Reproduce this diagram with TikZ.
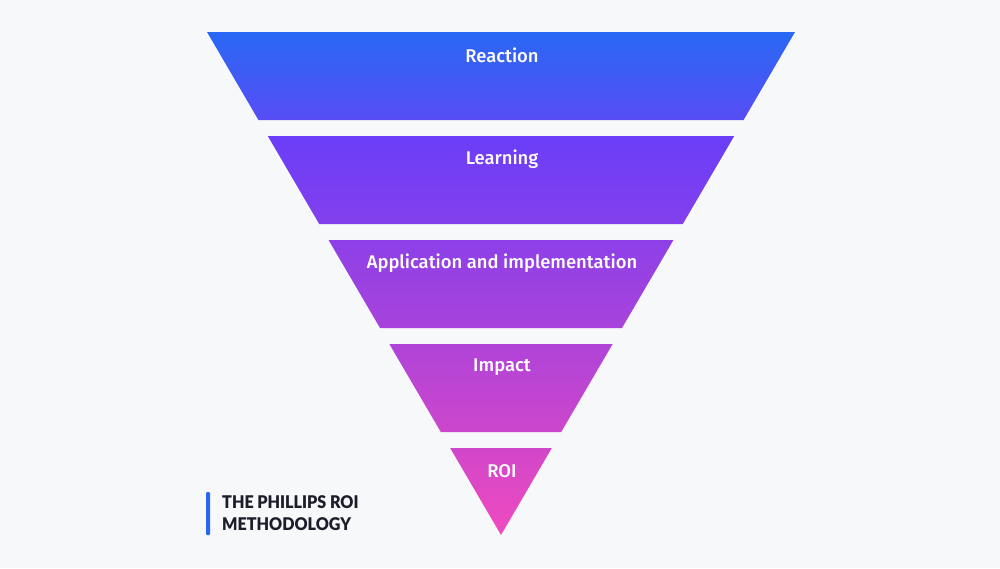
\documentclass[tikz,border=0pt]{standalone}
\usepackage{fontspec}
\setmainfont{Lato}
\newfontfamily\lblfont{Fira Sans}[UprightFont={* Medium}]
\newfontfamily\titlefont{Lato}[UprightFont={* Black}]
\usetikzlibrary{calc}
\definecolor{bg}{HTML}{F7F8FA}
\definecolor{cA}{HTML}{2968F4}
\definecolor{cB}{HTML}{574DF5}
\definecolor{cC}{HTML}{6A3DF8}
\definecolor{cD}{HTML}{8340EC}
\definecolor{cE}{HTML}{8D40E8}
\definecolor{cF}{HTML}{A943DB}
\definecolor{cG}{HTML}{B044D8}
\definecolor{cH}{HTML}{CC46CC}
\definecolor{cI}{HTML}{D147C9}
\definecolor{cJ}{HTML}{F04ABF}
\definecolor{titlec}{HTML}{1C1D2B}
\definecolor{barc}{HTML}{2A66F4}
\newcommand{\narrowtxt}[1]{\scalebox{0.92}[1]{#1}}
\tikzset{
  lbl/.style={text=white, font=\lblfont\fontsize{18.4}{22}\selectfont, anchor=center},
  title/.style={text=titlec, font=\titlefont\fontsize{17.5}{22.5}\selectfont, anchor=north west, align=left, inner sep=0pt}
}
\begin{document}
\begin{tikzpicture}[x=1pt,y=-1pt]
\fill[bg] (0,0) rectangle (1000,568);
\useasboundingbox (0,0) rectangle (1000,568);
% slope per side
\def\s{0.5845}
\shade[top color=cA,bottom color=cB] (207,32) -- (795,32) -- ({795-88*\s},120) -- ({207+88*\s},120) -- cycle;
\shade[top color=cC,bottom color=cD] ({207+104*\s},136) -- ({795-104*\s},136) -- ({795-192*\s},224) -- ({207+192*\s},224) -- cycle;
\shade[top color=cE,bottom color=cF] ({207+208*\s},240) -- ({795-208*\s},240) -- ({795-296*\s},328) -- ({207+296*\s},328) -- cycle;
\shade[top color=cG,bottom color=cH] ({207+312*\s},344) -- ({795-312*\s},344) -- ({795-400*\s},432) -- ({207+400*\s},432) -- cycle;
\shade[top color=cI,bottom color=cJ] ({207+416*\s},448) -- ({795-416*\s},448) -- (501,535) -- cycle;
\node[lbl] (l1) at (502,55.5) {Reaction};
\node[lbl] (l2) at (502,159.5) {Learning};
\node[lbl] (l3) at (502,263.5) {Application and implementation};
\node[lbl] (l4) at (502,367.5) {Impact};
\node[lbl] (l5) at (502,471.5) {ROI};
\fill[barc, rounded corners=1pt] (206,492) rectangle (210,535);
\node[title] (t) at (222,495) {\narrowtxt{THE PHILLIPS ROI}\\\narrowtxt{METHODOLOGY}};
\end{tikzpicture}
\end{document}
